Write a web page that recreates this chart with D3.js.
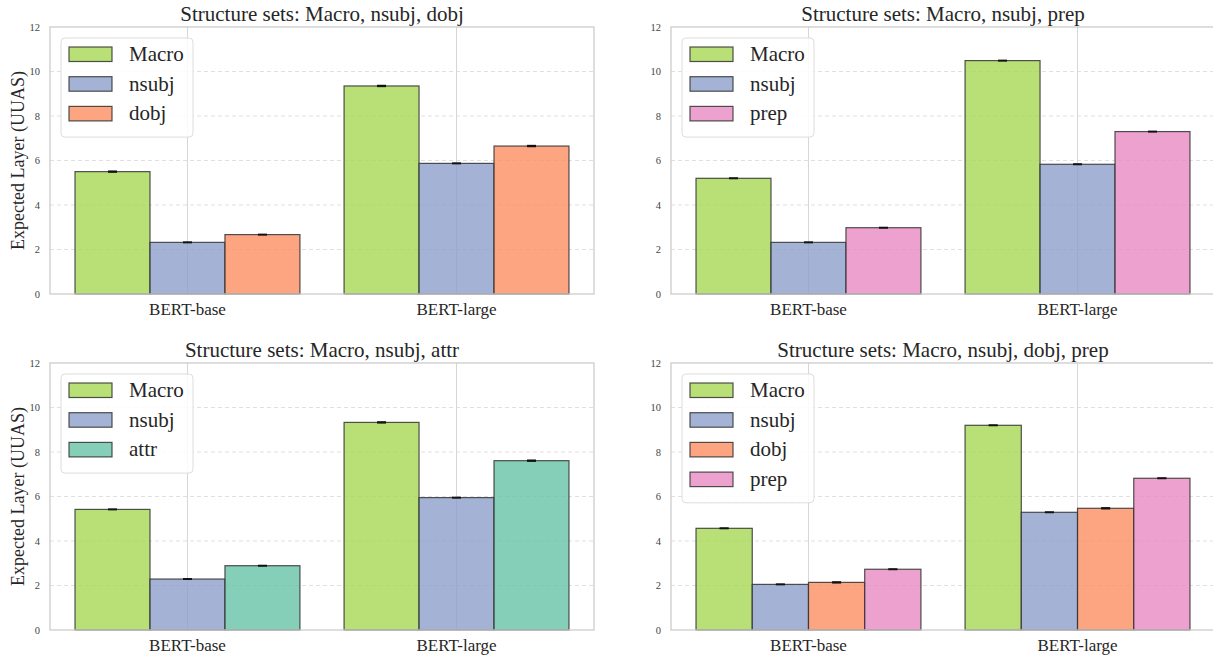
<!DOCTYPE html>
<html>
<head>
<meta charset="utf-8">
<script src="https://cdn.jsdelivr.net/npm/d3@7"></script>
<style>
  body { margin: 0; background: #fff; }
  svg { display: block; }
</style>
</head>
<body>
<svg id="chart" width="1213" height="657"></svg>
<script>
// categories and ticks
const categories = ["BERT-base", "BERT-large"];
const yTicks = [0, 2, 4, 6, 8, 10, 12];

// one entry per subplot
const panelTitles = [
  "Structure sets: Macro, nsubj, dobj",
  "Structure sets: Macro, nsubj, prep",
  "Structure sets: Macro, nsubj, attr",
  "Structure sets: Macro, nsubj, dobj, prep"
];
const panelSeries = [
  ["Macro", "nsubj", "dobj"],
  ["Macro", "nsubj", "prep"],
  ["Macro", "nsubj", "attr"],
  ["Macro", "nsubj", "dobj", "prep"]
];
// values[series][category]
const panelValues = [
  [[5.50, 9.35], [2.32, 5.87], [2.67, 6.65]],
  [[5.20, 10.49], [2.32, 5.83], [2.98, 7.30]],
  [[5.42, 9.33], [2.29, 5.95], [2.89, 7.61]],
  [[4.57, 9.20], [2.05, 5.29], [2.14, 5.47], [2.73, 6.82]]
];
const panelErrors = [
  [[0.02, 0.02], [0.01, 0.01], [0.01, 0.02]],
  [[0.01, 0.01], [0.01, 0.01], [0.01, 0.01]],
  [[0.01, 0.02], [0.01, 0.01], [0.01, 0.02]],
  [[0.01, 0.01], [0.01, 0.01], [0.02, 0.02], [0.01, 0.01]]
];

const colors = {
  Macro: "#a6d854",
  nsubj: "#8da0cb",
  dobj: "#fc8d62",
  prep: "#e78ac3",
  attr: "#66c2a5"
};

const serif = "'Liberation Serif', 'Times New Roman', Times, serif";

// subplot placement
const panelPos = [[50, 27], [671, 27], [50, 363], [671, 363]];
const W = 544, H = 267;
const groupWidth = 0.836;

const svg = d3.select("#chart");

panelTitles.forEach((title, p) => {
  const [x0, y0] = panelPos[p];
  const names = panelSeries[p];
  const vals = panelValues[p];
  const errs = panelErrors[p];
  const g = svg.append("g").attr("transform", `translate(${x0},${y0})`);

  const x = d3.scaleLinear().domain([-0.511, 1.511]).range([0, W]);
  const y = d3.scaleLinear().domain([0, 12]).range([H, 0]);

  // horizontal dashed grid
  g.selectAll(".hgrid")
    .data(yTicks.filter(t => t > 0 && t < 12))
    .join("line")
    .attr("x1", 0).attr("x2", W)
    .attr("y1", d => y(d)).attr("y2", d => y(d))
    .attr("stroke", "#dcdcdc").attr("stroke-width", 0.9)
    .attr("stroke-dasharray", "4,3");

  // vertical grid at categories
  g.selectAll(".vgrid")
    .data(categories)
    .join("line")
    .attr("x1", (d, i) => x(i)).attr("x2", (d, i) => x(i))
    .attr("y1", 0).attr("y2", H)
    .attr("stroke", "#d6d6d6").attr("stroke-width", 1);

  // bars
  const bw = groupWidth / names.length;
  const barData = [];
  names.forEach((name, s) => {
    categories.forEach((c, ci) => {
      barData.push({ name, s, ci, v: vals[s][ci], e: errs[s][ci] });
    });
  });

  g.selectAll(".bar")
    .data(barData)
    .join("rect")
    .attr("x", d => x(d.ci - groupWidth / 2 + d.s * bw))
    .attr("width", x(bw) - x(0))
    .attr("y", d => y(d.v))
    .attr("height", d => H - y(d.v))
    .attr("fill", d => colors[d.name])
    .attr("fill-opacity", 0.8)
    .attr("stroke", "#333")
    .attr("stroke-opacity", 0.85)
    .attr("stroke-width", 1.2);

  // error bars
  const ex = d => x(d.ci - groupWidth / 2 + (d.s + 0.5) * bw);
  g.selectAll(".err")
    .data(barData)
    .join("line")
    .attr("x1", ex).attr("x2", ex)
    .attr("y1", d => y(d.v - d.e)).attr("y2", d => y(d.v + d.e))
    .attr("stroke", "#111").attr("stroke-width", 1.5);
  g.selectAll(".capTop")
    .data(barData)
    .join("line")
    .attr("x1", d => ex(d) - 4.5).attr("x2", d => ex(d) + 4.5)
    .attr("y1", d => y(d.v + d.e)).attr("y2", d => y(d.v + d.e))
    .attr("stroke", "#111").attr("stroke-width", 1.5);
  g.selectAll(".capBot")
    .data(barData)
    .join("line")
    .attr("x1", d => ex(d) - 4.5).attr("x2", d => ex(d) + 4.5)
    .attr("y1", d => y(d.v - d.e)).attr("y2", d => y(d.v - d.e))
    .attr("stroke", "#111").attr("stroke-width", 1.5);

  // spines
  g.append("rect")
    .attr("x", 0).attr("y", 0).attr("width", W).attr("height", H)
    .attr("fill", "none").attr("stroke", "#cccccc").attr("stroke-width", 1.3);

  // y tick labels
  g.selectAll(".ytick")
    .data(yTicks)
    .join("text")
    .attr("x", -10).attr("y", d => y(d))
    .attr("text-anchor", "end")
    .attr("dominant-baseline", "central")
    .style("font-family", serif)
    .style("font-size", "10.5px")
    .style("fill", "#444")
    .text(d => d);

  // x tick labels
  g.selectAll(".xtick")
    .data(categories)
    .join("text")
    .attr("x", (d, i) => x(i)).attr("y", H + 21)
    .attr("text-anchor", "middle")
    .style("font-family", serif)
    .style("font-size", "17px")
    .style("fill", "#262626")
    .text(d => d);

  // title
  g.append("text")
    .attr("x", W / 2).attr("y", -6)
    .attr("text-anchor", "middle")
    .style("font-family", serif)
    .style("font-size", "21px")
    .style("fill", "#262626")
    .text(title);

  // y label on the left column
  if (x0 < 100) {
    g.append("text")
      .attr("transform", `translate(${17.5 - x0},${H / 2}) rotate(-90)`)
      .attr("text-anchor", "middle")
      .attr("dominant-baseline", "central")
      .style("font-family", serif)
      .style("font-size", "18px")
      .style("fill", "#262626")
      .text("Expected Layer (UUAS)");
  }

  // legend
  const rowH = 29.7;
  const leg = g.append("g").attr("transform", "translate(11,11)");
  leg.append("rect")
    .attr("width", 132).attr("height", 17 + rowH * names.length - 7)
    .attr("rx", 4)
    .attr("fill", "#fff").attr("fill-opacity", 0.85)
    .attr("stroke", "#dddddd").attr("stroke-width", 1);
  const items = leg.selectAll(".item")
    .data(names)
    .join("g")
    .attr("transform", (d, i) => `translate(8,${9 + i * rowH})`);
  items.append("rect")
    .attr("width", 43).attr("height", 14.5)
    .attr("fill", d => colors[d]).attr("fill-opacity", 0.8)
    .attr("stroke", "#333").attr("stroke-opacity", 0.85).attr("stroke-width", 1.2);
  items.append("text")
    .attr("x", 60).attr("y", 14)
    .style("font-family", serif)
    .style("font-size", "21px")
    .style("fill", "#262626")
    .text(d => d);
});
</script>
</body>
</html>
